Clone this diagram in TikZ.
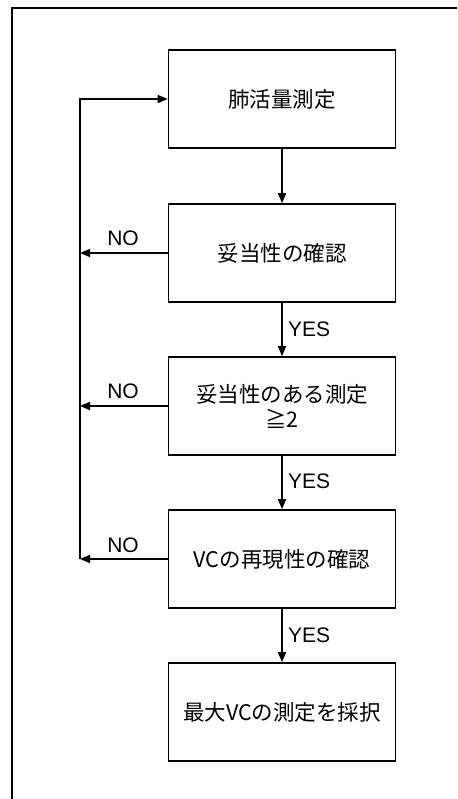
\documentclass[tikz,border=0pt]{standalone}
\usepackage{fontspec}
\newfontfamily\jpfont{Noto Sans CJK JP}
\newfontfamily\latfont{Liberation Sans}
\usetikzlibrary{arrows.meta}
\tikzset{
  stepbox/.style={draw, line width=1.6pt, minimum width=227pt, minimum height=98pt, inner sep=0pt, align=center, font=\jpfont\fontsize{21.5}{25}\selectfont},
  conn/.style={line width=1.6pt, -{Triangle[length=10pt,width=8pt]}},
  lbl/.style={font=\latfont\fontsize{21}{24}\selectfont, inner sep=0pt},
}
\begin{document}
\begin{tikzpicture}[x=1pt,y=-1pt]
\useasboundingbox (0,0) rectangle (457,799);
% outer frame (left and top edges)
\coordinate (fbl) at (12,799);
\coordinate (ftl) at (12,8);
\coordinate (ftr) at (457,8);
\draw[line width=1.2pt] (fbl) -- (ftl) -- (ftr);
% boxes
\node[stepbox] (b1) at (282,99) {肺活量測定};
\node[stepbox] (b2) at (282,253) {妥当性の確認};
\node[stepbox] (b3) at (282,406) {妥当性のある測定\\≧2};
\node[stepbox] (b4) at (282,559) {VCの再現性の確認};
\node[stepbox] (b5) at (282,712) {最大VCの測定を採択};
% down arrows
\draw[conn] (b1) -- (b2);
\draw[conn] (b2) -- (b3);
\draw[conn] (b3) -- (b4);
\draw[conn] (b4) -- (b5);
% NO branches
\coordinate (n2) at (80,253);
\coordinate (n3) at (80,406);
\coordinate (n4) at (80,559);
\coordinate (lt) at (80,99);
\draw[conn] (b2.west) -- (n2);
\draw[conn] (b3.west) -- (n3);
\draw[conn] (b4.west) -- (n4);
\draw[conn] (n4) -- (lt) -- (b1.west);
% labels
\node[lbl] (no2) at (123,238) {NO};
\node[lbl] (no3) at (123,391) {NO};
\node[lbl] (no4) at (123,545) {NO};
\node[lbl, anchor=west] (y2) at (288,329) {YES};
\node[lbl, anchor=west] (y3) at (288,481) {YES};
\node[lbl, anchor=west] (y4) at (288,635) {YES};
\end{tikzpicture}
\end{document}
